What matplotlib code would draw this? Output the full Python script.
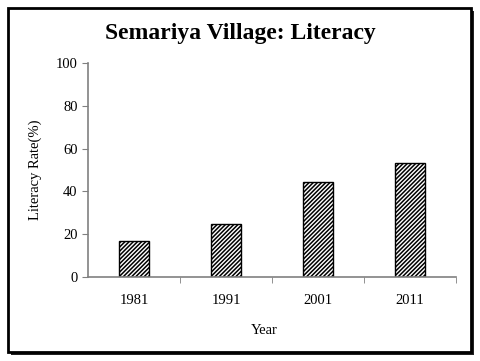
import matplotlib
matplotlib.use('Agg')
import matplotlib.pyplot as plt
from matplotlib.patches import Rectangle

years = ['1981', '1991', '2001', '2011']
literacy = [16.6, 24.8, 44.3, 53.4]

plt.rcParams['font.family'] = 'Liberation Serif'
plt.rcParams['hatch.linewidth'] = 1.1

fig = plt.figure(figsize=(4.8, 3.61), dpi=100)
ax = fig.add_axes([88/480, 1 - 277/361, 368/480, 214/361])

x = list(range(len(years)))
ax.bar(x, literacy, width=0.33, color='white', edgecolor='black',
       linewidth=1.0, hatch='////////')

ax.set_xlim(-0.5, len(years) - 0.5)
ax.set_ylim(0, 100)
ax.set_yticks(range(0, 101, 20))
ax.set_xticks(x)
ax.set_xticklabels(years)
ax.set_xticks([i + 0.5 for i in x], minor=True)
ax.tick_params(axis='x', which='major', length=0, labelsize=10.5, pad=12)
ax.tick_params(axis='x', which='minor', length=4, color='#808080')
ax.tick_params(axis='y', length=4, color='#808080', labelsize=10.5)
for s in ['top', 'right']:
    ax.spines[s].set_visible(False)
for s in ['left', 'bottom']:
    ax.spines[s].set_color('#808080')
    ax.spines[s].set_linewidth(1.2)

ax.set_ylabel('Literacy Rate(%)', fontsize=10.5, labelpad=10)
ax.set_xlabel('Year', fontsize=10.5)
ax.xaxis.set_label_coords(0.48, -0.22)

fig.text(0.5, 1 - 33/361, 'Semariya Village: Literacy', ha='center', va='center',
         fontsize=17, fontweight='bold')

# frame with shadow
fig.patches.append(Rectangle((11/480, 1 - 355/361), 463/480, 344/361,
                             transform=fig.transFigure, facecolor='#222222',
                             edgecolor='none', zorder=-2))
fig.patches.append(Rectangle((8/480, 1 - 352/361), 463/480, 344/361,
                             transform=fig.transFigure, facecolor='white',
                             edgecolor='black', linewidth=2, zorder=-1))

fig.savefig('out.png', dpi=100)
